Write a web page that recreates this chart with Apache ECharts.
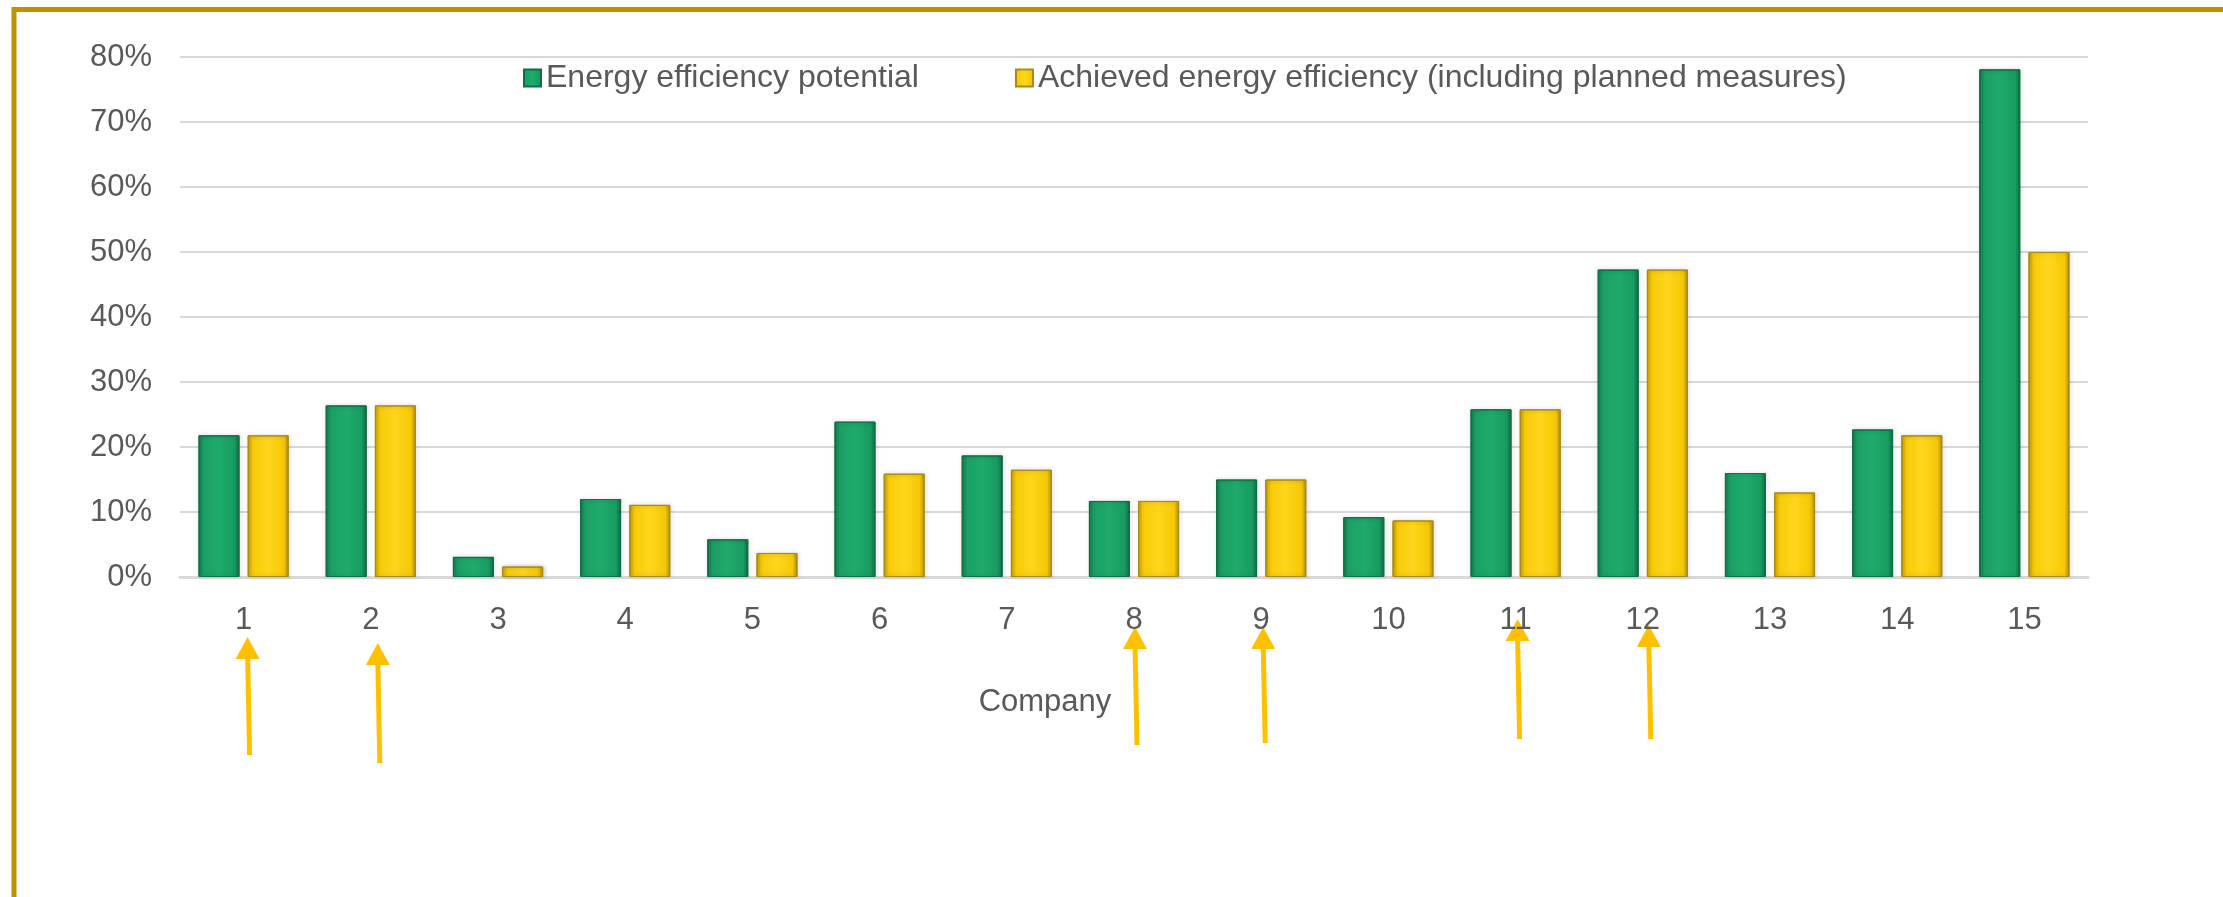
<!DOCTYPE html>
<html>
<head>
<meta charset="utf-8">
<script src="https://cdn.jsdelivr.net/npm/echarts@6/dist/echarts.min.js"></script>
<style>
  html, body { margin: 0; padding: 0; background: #fff; }
  #chart { width: 2223px; height: 897px; }
</style>
</head>
<body>
<div id="chart"></div>
<script>
// chart data (percent)
const companies = ['1', '2', '3', '4', '5', '6', '7', '8', '9', '10', '11', '12', '13', '14', '15'];
const potential = [21.8, 26.4, 3.1, 12.0, 5.8, 23.9, 18.7, 11.7, 15.0, 9.2, 25.8, 47.3, 16.0, 22.7, 78.1];
const achieved = [21.8, 26.4, 1.6, 11.1, 3.7, 15.9, 16.5, 11.7, 15.0, 8.7, 25.8, 47.3, 13.0, 21.8, 50.0];
const yTicks = [0, 10, 20, 30, 40, 50, 60, 70, 80];
// companies marked with an arrow under the axis
const markedCompanies = ['1', '2', '8', '9', '11', '12'];

// arrow layout (pixel tweaks, not data)
const arrowLayout = {
  '1': { dx: 4, tip: 637, end: 755 },
  '2': { dx: 7, tip: 643, end: 763 },
  '8': { dx: 1, tip: 627, end: 745 },
  '9': { dx: 2, tip: 627, end: 743 },
  '11': { dx: 2, tip: 619, end: 739 },
  '12': { dx: 6, tip: 625, end: 739 }
};

const FONT = 'Arial, "Liberation Sans", sans-serif';
const TEXT = '#595959';

const greenFill = new echarts.graphic.LinearGradient(0, 0, 1, 0, [
  { offset: 0, color: '#157d51' },
  { offset: 0.12, color: '#1c9f66' },
  { offset: 0.5, color: '#1eab6b' },
  { offset: 0.88, color: '#189b61' },
  { offset: 1, color: '#106d46' }
]);
const yellowFill = new echarts.graphic.LinearGradient(0, 0, 1, 0, [
  { offset: 0, color: '#cba200' },
  { offset: 0.12, color: '#f7cb08' },
  { offset: 0.5, color: '#ffd61c' },
  { offset: 0.88, color: '#f5c805' },
  { offset: 1, color: '#b99300' }
]);

const chart = echarts.init(document.getElementById('chart'));

const option = {
  animation: false,
  backgroundColor: '#fff',
  textStyle: { fontFamily: FONT, color: TEXT },
  legend: {
    left: 523,
    top: 62,
    padding: 0,
    itemWidth: 17,
    itemHeight: 17,
    itemGap: 96,
    icon: 'rect',
    textStyle: { fontSize: 32, color: TEXT, fontFamily: FONT },
    data: ['Energy efficiency potential', 'Achieved energy efficiency (including planned measures)']
  },
  grid: { left: 180, right: 135, top: 57, bottom: 320 },
  xAxis: {
    type: 'category',
    data: companies,
    name: 'Company',
    nameLocation: 'middle',
    nameGap: 110,
    nameTextStyle: { fontSize: 31, color: TEXT, fontFamily: FONT, padding: [0, 178, 0, 0] },
    axisLine: { lineStyle: { color: '#d9d9d9', width: 3 } },
    axisTick: { show: false },
    axisLabel: { fontSize: 31, color: TEXT, margin: 28, fontFamily: FONT }
  },
  yAxis: {
    type: 'value',
    min: yTicks[0],
    max: yTicks[yTicks.length - 1],
    interval: 10,
    axisLine: { show: false },
    axisTick: { show: false },
    axisLabel: { fontSize: 31, color: TEXT, margin: 28, fontFamily: FONT, formatter: '{value}%' },
    splitLine: { lineStyle: { color: '#d9d9d9', width: 2 } }
  },
  series: [
    {
      name: 'Energy efficiency potential',
      type: 'bar',
      data: potential,
      barWidth: 41,
      barGap: '20%',
      itemStyle: {
        color: greenFill,
        borderColor: '#0f6e45',
        borderWidth: 1,
        shadowColor: 'rgba(0,0,0,0.25)',
        shadowBlur: 4,
        shadowOffsetX: 1
      }
    },
    {
      name: 'Achieved energy efficiency (including planned measures)',
      type: 'bar',
      data: achieved,
      barWidth: 41,
      itemStyle: {
        color: yellowFill,
        borderColor: '#a88a1a',
        borderWidth: 1,
        shadowColor: 'rgba(0,0,0,0.25)',
        shadowBlur: 4,
        shadowOffsetX: 1
      }
    }
  ]
};

chart.setOption(option);

// frame and arrows
const extras = [
  {
    type: 'rect',
    shape: { x: 14, y: 9.5, width: 2400, height: 1000 },
    style: { fill: 'none', stroke: '#bf9000', lineWidth: 5 },
    silent: true
  }
];

markedCompanies.forEach(c => {
  const lay = arrowLayout[c];
  const x = chart.convertToPixel({ xAxisIndex: 0 }, c) + lay.dx;
  extras.push({
    type: 'line',
    shape: { x1: x + 2, y1: lay.end, x2: x, y2: lay.tip + 18 },
    style: { stroke: '#ffc000', lineWidth: 5 },
    silent: true
  });
  extras.push({
    type: 'polygon',
    shape: { points: [[x, lay.tip], [x - 12, lay.tip + 22], [x + 12, lay.tip + 22]] },
    style: { fill: '#ffc000' },
    silent: true
  });
});

chart.setOption({ graphic: extras });
</script>
</body>
</html>
